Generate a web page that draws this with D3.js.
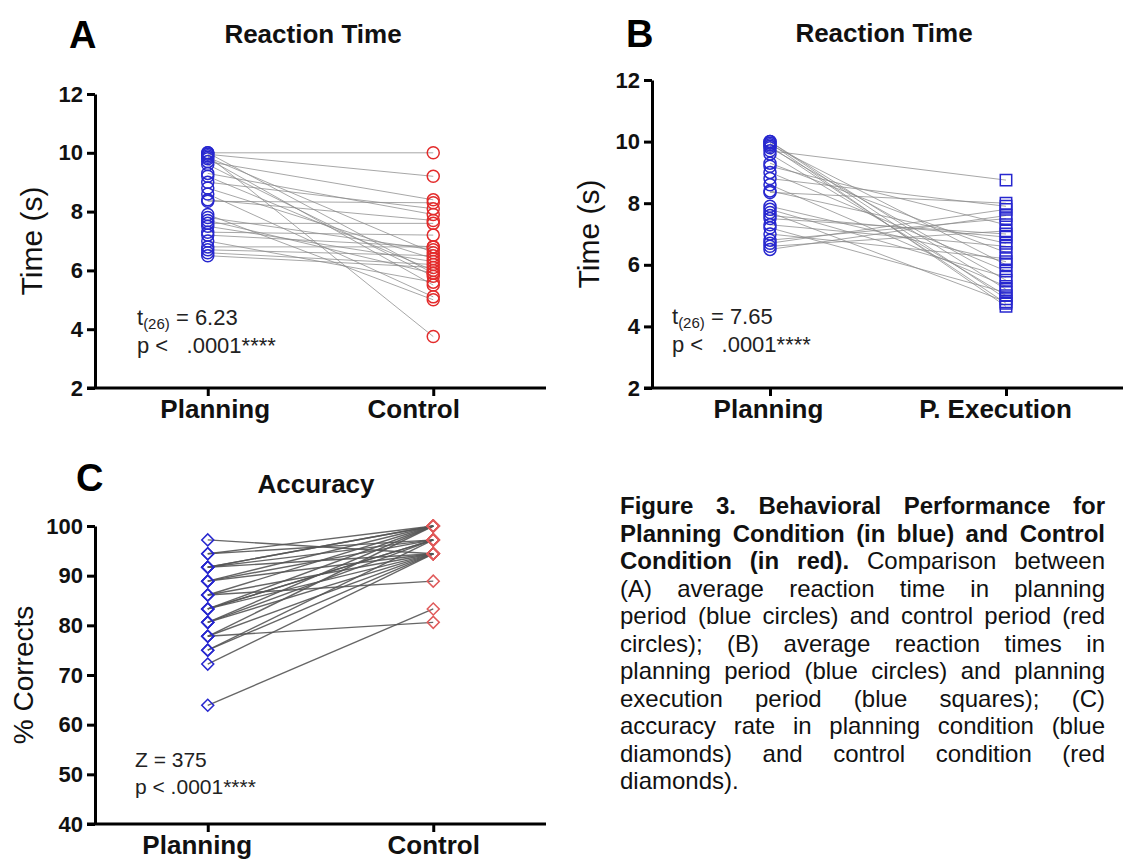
<!DOCTYPE html>
<html lang="en">
<head>
<meta charset="UTF-8">
<title>Figure 3</title>
<style>
  body { margin: 0; background: #fff; }
  svg text { font-family: "Liberation Sans", Arial, sans-serif; }
</style>
</head>
<body>
<script src="https://cdn.jsdelivr.net/npm/d3@7"></script>
<script>
// ---- data ----
var rtCats = ["Planning", "Control"];
var rtPlanning = [10.0, 10.0, 9.95, 9.9, 9.85, 9.8, 9.7, 9.6, 9.3, 9.2, 9.0, 8.8, 8.6, 8.4, 8.35, 7.9, 7.8, 7.7, 7.6, 7.5, 7.3, 7.2, 7.0, 6.8, 6.7, 6.6, 6.5];
var rtControl  = [10.0, 5.9, 9.2, 3.75, 6.6, 5.5, 8.4, 5.8, 7.9, 6.0, 8.1, 6.4, 5.1, 7.7, 8.3, 5.0, 6.7, 5.9, 7.6, 6.3, 7.2, 6.8, 5.6, 6.8, 6.5, 6.2, 6.1];

var execCats = ["Planning", "P. Execution"];
var rtPlanningB = [10.0, 10.0, 9.95, 9.9, 9.85, 9.8, 9.7, 9.6, 9.3, 9.2, 9.0, 8.8, 8.6, 8.4, 8.35, 7.9, 7.8, 7.7, 7.6, 7.5, 7.3, 7.2, 7.0, 6.8, 6.7, 6.6, 6.5];
var rtExecution = [4.9, 5.2, 4.65, 6.0, 4.75, 5.5, 8.75, 5.0, 6.4, 7.3, 5.8, 7.9, 5.3, 6.7, 8.0, 6.1, 5.6, 4.8, 6.9, 7.0, 6.6, 5.1, 6.2, 7.5, 7.8, 7.1, 7.6];

var accCats = ["Planning", "Control"];
var accPlanning = [97.2, 94.4, 94.4, 91.7, 91.7, 91.7, 91.7, 88.9, 88.9, 88.9, 86.1, 86.1, 86.1, 83.3, 83.3, 83.3, 83.3, 80.6, 80.6, 80.6, 77.8, 77.8, 77.8, 75.0, 75.0, 72.2, 63.9];
var accControl  = [94.4, 100, 97.2, 100, 97.2, 94.4, 100, 100, 97.2, 94.4, 88.9, 100, 94.4, 100, 97.2, 94.4, 97.2, 100, 94.4, 97.2, 80.6, 100, 94.4, 97.2, 94.4, 94.4, 83.3];

var rtTicks = [2, 4, 6, 8, 10, 12];
var accTicks = [40, 50, 60, 70, 80, 90, 100];

var blue = "#2727cf", red = "#e32b2b", redLight = "#e05a5a";

var svg = d3.select("body").append("svg")
    .attr("width", 1123)
    .attr("height", 868);

function marker(shape, size) {
    if (shape === "circle") return d3.symbol().type(d3.symbolCircle).size(size)();
    return d3.symbol().type(d3.symbolSquare).size(size)();
}

function drawPanel(o) {
    var g = svg.append("g");
    var x = d3.scalePoint().domain(o.cats).range(o.xRange).padding(0.5);
    var y = d3.scaleLinear().domain(o.yDomain).range(o.yRange);

    var pairs = d3.zip(o.left, o.right);

    // connecting lines
    g.selectAll("line.pair")
        .data(pairs)
        .enter()
        .append("line")
        .attr("class", "pair")
        .attr("x1", x(o.cats[0]))
        .attr("x2", x(o.cats[1]))
        .attr("y1", function(d){ return y(d[0]); })
        .attr("y2", function(d){ return y(d[1]); })
        .attr("stroke", o.lineColor)
        .attr("stroke-width", o.lineWidth)
        .attr("stroke-opacity", o.lineOpacity);

    // markers
    [0, 1].forEach(function(k){
        var m = o.markers[k];
        g.selectAll("path.m" + k)
            .data(k === 0 ? o.left : o.right)
            .enter()
            .append("path")
            .attr("class", "m" + k)
            .attr("d", marker(m.shape, m.size))
            .attr("transform", function(d){
                return "translate(" + x(o.cats[k]) + "," + y(d) + ")" + (m.rotate ? " rotate(45)" : "");
            })
            .attr("fill", "none")
            .attr("stroke", m.color)
            .attr("stroke-width", 1.5);
    });

    // axes
    var yAxis = d3.axisLeft(y).tickValues(o.ticks).tickSize(8).tickSizeOuter(0).tickPadding(4);
    var xAxis = d3.axisBottom(x).tickSize(8).tickSizeOuter(0).tickPadding(4);

    var ya = g.append("g")
        .attr("transform", "translate(" + o.xRange[0] + ",0)")
        .call(yAxis);
    var xa = g.append("g")
        .attr("transform", "translate(0," + o.yRange[0] + ")")
        .call(xAxis);
    xa.select(".domain").attr("d", "M" + (o.xRange[0] - 8) + ",0H" + o.xRange[1]);

    [ya, xa].forEach(function(a){
        a.select(".domain").attr("stroke", "#000").attr("stroke-width", 3);
        a.selectAll(".tick line").attr("stroke", "#000").attr("stroke-width", 3);
    });
    ya.selectAll(".tick text")
        .attr("font-size", "22px")
        .attr("font-weight", "bold")
        .attr("fill", "#111")
        .style("font-family", "'Liberation Sans', Arial, sans-serif");
    xa.selectAll(".tick text")
        .attr("font-size", "26px")
        .attr("font-weight", "bold")
        .attr("fill", "#111")
        .attr("dx", function(d, i){ return o.labelDx[i]; })
        .style("font-family", "'Liberation Sans', Arial, sans-serif");

    // panel letter and title
    g.append("text")
        .attr("x", o.letterPos[0]).attr("y", o.letterPos[1])
        .attr("font-size", "38px").attr("font-weight", "bold")
        .text(o.letter);
    g.append("text")
        .attr("x", o.titleX).attr("y", o.titleY)
        .attr("text-anchor", "middle")
        .attr("font-size", "26px").attr("font-weight", "bold")
        .attr("fill", "#111")
        .text(o.title);

    // y label
    g.append("text")
        .attr("transform", "translate(" + o.yLabelX + "," + ((o.yRange[0] + o.yRange[1]) / 2) + ") rotate(-90)")
        .attr("text-anchor", "middle")
        .attr("dy", "0.35em")
        .attr("font-size", o.yLabelSize)
        .attr("fill", "#111")
        .text(o.yLabel);

    // stats
    var s1 = g.append("text")
        .attr("x", o.statX).attr("y", o.statY[0])
        .attr("font-size", o.statSize)
        .attr("fill", "#222");
    s1.append("tspan").text(o.stat1[0]);
    if (o.stat1[1]) {
        s1.append("tspan").attr("font-size", "15px").attr("dy", 4).text(o.stat1[1]);
        s1.append("tspan").attr("dy", -4).text(o.stat1[2]);
    }
    g.append("text")
        .attr("x", o.statX).attr("y", o.statY[1])
        .attr("font-size", o.statSize)
        .attr("fill", "#222")
        .style("white-space", "pre")
        .text(o.stat2);
}

drawPanel({
    letter: "A", letterPos: [69, 48], title: "Reaction Time", titleX: 313, titleY: 43,
    cats: rtCats, left: rtPlanning, right: rtControl, labelDx: [7, -20],
    xRange: [95, 546], yDomain: [2, 12], yRange: [388, 94], ticks: rtTicks,
    lineColor: "#8a8a8a", lineWidth: 1, lineOpacity: 0.75,
    markers: [{shape: "circle", size: 113, color: blue}, {shape: "circle", size: 113, color: red}],
    yLabel: "Time (s)", yLabelX: 31, yLabelSize: "30px",
    statX: 137, statY: [325, 353], statSize: "22px",
    stat1: ["t", "(26)", " = 6.23"], stat2: "p <   .0001****"
});

drawPanel({
    letter: "B", letterPos: [626, 47], title: "Reaction Time", titleX: 884, titleY: 42,
    cats: execCats, left: rtPlanningB, right: rtExecution, labelDx: [-2, -11],
    xRange: [652, 1124], yDomain: [2, 12], yRange: [388, 80], ticks: rtTicks,
    lineColor: "#8a8a8a", lineWidth: 1, lineOpacity: 0.75,
    markers: [{shape: "circle", size: 113, color: blue}, {shape: "square", size: 130, color: blue}],
    yLabel: "Time (s)", yLabelX: 588, yLabelSize: "30px",
    statX: 672, statY: [324, 352], statSize: "22px",
    stat1: ["t", "(26)", " = 7.65"], stat2: "p <   .0001****"
});

drawPanel({
    letter: "C", letterPos: [76, 491], title: "Accuracy", titleX: 316, titleY: 493,
    cats: accCats, left: accPlanning, right: accControl, labelDx: [-11, 0],
    xRange: [95, 546], yDomain: [40, 100], yRange: [824, 526], ticks: accTicks,
    lineColor: "#555", lineWidth: 1.4, lineOpacity: 0.9,
    markers: [{shape: "diamond", size: 72, color: blue, rotate: true}, {shape: "diamond", size: 72, color: redLight, rotate: true}],
    yLabel: "% Corrects", yLabelX: 23, yLabelSize: "28px",
    statX: 135, statY: [767, 794], statSize: "21px",
    stat1: ["Z = 375"], stat2: "p < .0001****"
});

// ---- caption (justified) ----
var capLines = [
    [["b", "Figure 3. Behavioral Performance for"]],
    [["b", "Planning Condition (in blue) and Control"]],
    [["b", "Condition (in red)."], ["n", "Comparison between"]],
    [["n", "(A) average reaction time in planning"]],
    [["n", "period (blue circles) and control period (red"]],
    [["n", "circles); (B) average reaction times in"]],
    [["n", "planning period (blue circles) and planning"]],
    [["n", "execution period (blue squares); (C)"]],
    [["n", "accuracy rate in planning condition (blue"]],
    [["n", "diamonds) and control condition (red"]],
    [["n", "diamonds)."]]
];
var capLeft = 620, capRight = 1105, capTop = 514, capStep = 27.5;
var cap = svg.append("g").attr("font-size", "24px").attr("fill", "#111");

capLines.forEach(function(line, i){
    var words = [];
    line.forEach(function(part){
        part[1].split(" ").forEach(function(w){ words.push({w: w, bold: part[0] === "b"}); });
    });
    var yPos = capTop + i * capStep;
    var nodes = words.map(function(d){
        return cap.append("text")
            .attr("y", yPos)
            .attr("font-weight", d.bold ? "bold" : "normal")
            .text(d.w);
    });
    var widths = nodes.map(function(n){ return n.node().getComputedTextLength(); });
    var total = d3.sum(widths);
    var last = i === capLines.length - 1;
    var gap = last ? 6.7 : (capRight - capLeft - total) / (words.length - 1);
    var xPos = capLeft;
    nodes.forEach(function(n, k){
        n.attr("x", xPos);
        xPos += widths[k] + gap;
    });
});
</script>
</body>
</html>
